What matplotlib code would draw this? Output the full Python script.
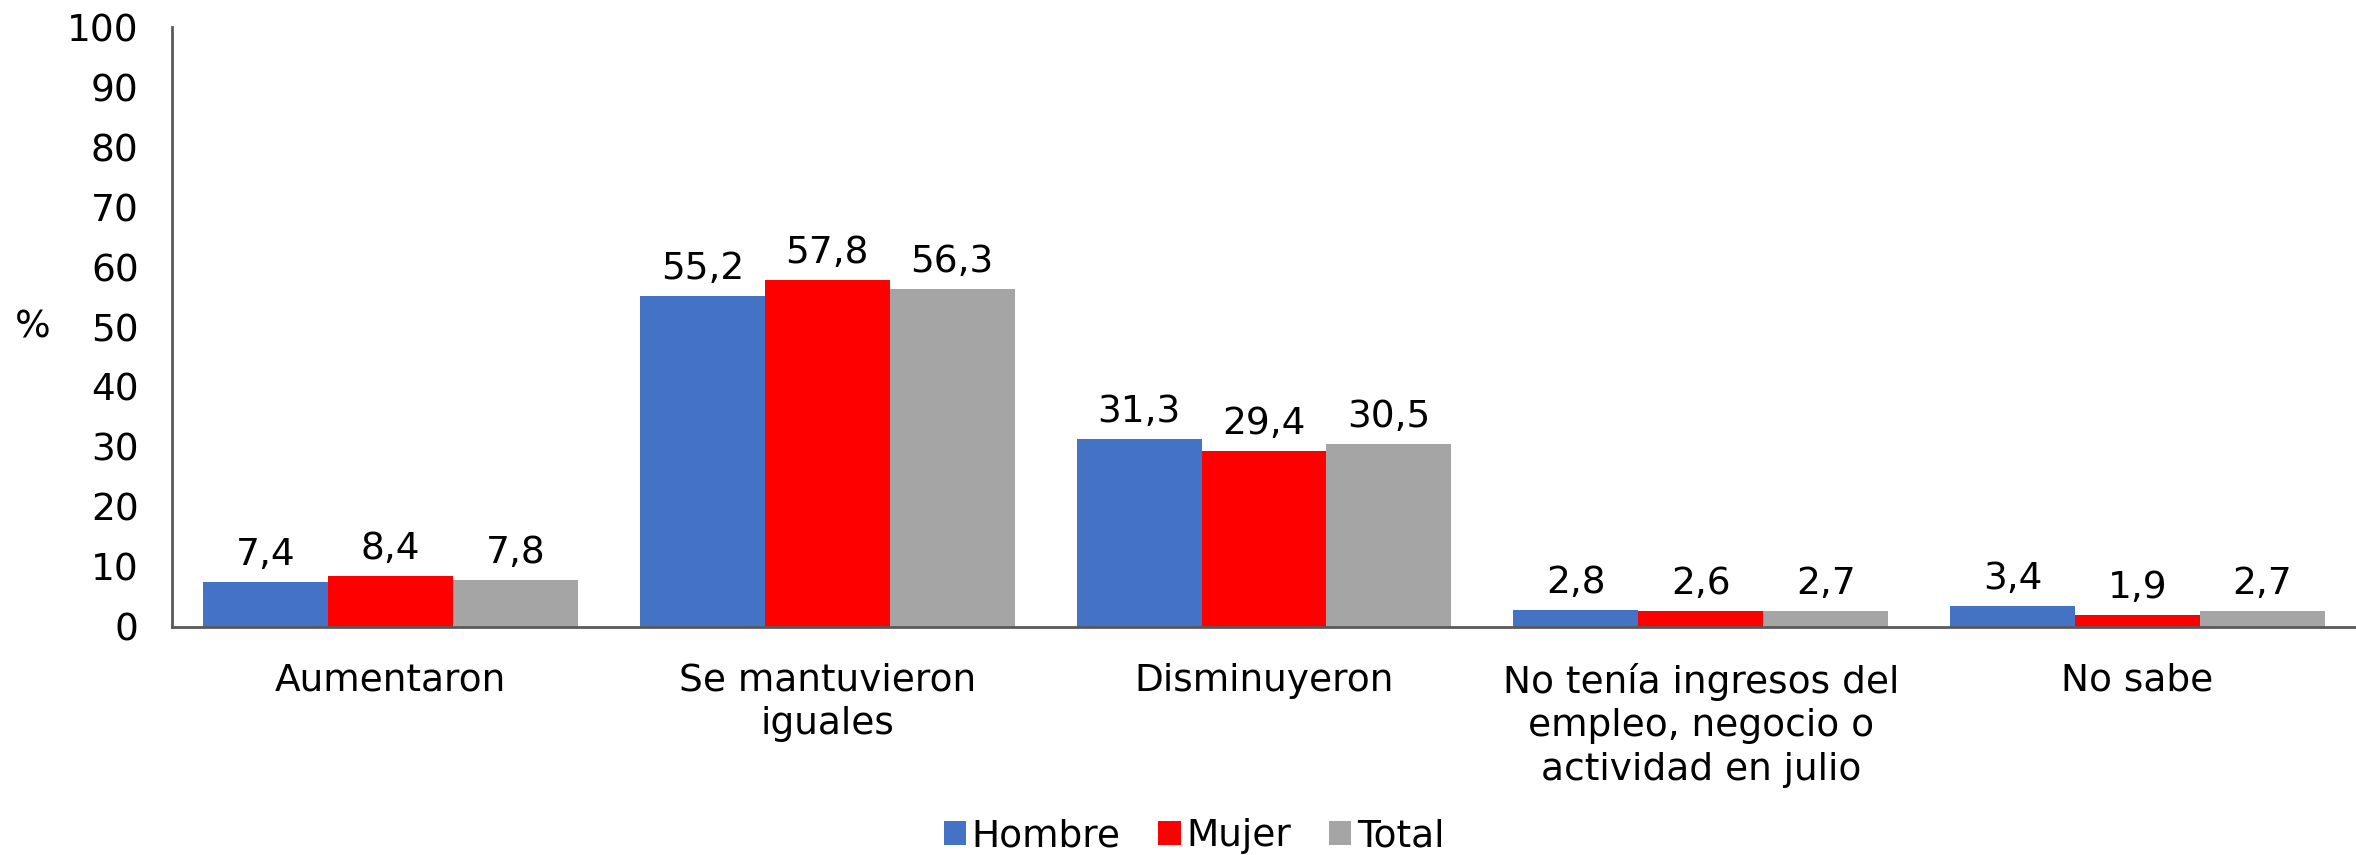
import numpy as np
import matplotlib.pyplot as plt

categories = ['Aumentaron', 'Se mantuvieron\niguales', 'Disminuyeron',
              'No tenía ingresos del\nempleo, negocio o\nactividad en julio', 'No sabe']
series = ['Hombre', 'Mujer', 'Total']
hombre = [7.4, 55.2, 31.3, 2.8, 3.4]
mujer = [8.4, 57.8, 29.4, 2.6, 1.9]
total = [7.8, 56.3, 30.5, 2.7, 2.7]
colors = ['#4472C4', '#FF0000', '#A5A5A5']

plt.rcParams['font.family'] = ['DejaVu Sans']
fs = 27

fig = plt.figure(figsize=(23.56, 8.55), dpi=100)
ax = fig.add_axes([0.073, 0.267, 0.927, 0.701])

x = np.arange(len(categories))
w = 0.286
for i, (name, vals) in enumerate(zip(series, [hombre, mujer, total])):
    pos = x + (i - 1) * w
    bars = ax.bar(pos, vals, w, color=colors[i], label=name)
    for b, v in zip(bars, vals):
        ax.text(b.get_x() + b.get_width() / 2, v + 1.5, f'{v:.1f}'.replace('.', ','),
                ha='center', va='bottom', fontsize=fs)

ax.set_xlim(-0.5, 4.5)
ax.set_ylim(0, 100)
ax.set_yticks(np.arange(0, 101, 10))
ax.set_xticks(x)
ax.set_xticklabels(categories, fontsize=fs, linespacing=1.27)
ax.tick_params(axis='y', labelsize=fs, length=0, pad=24)
ax.tick_params(axis='x', length=0, pad=26)
for s in ['top', 'right']:
    ax.spines[s].set_visible(False)
for s in ['left', 'bottom']:
    ax.spines[s].set_color('#595959')
    ax.spines[s].set_linewidth(2)

fig.text(0.014, 0.617, '%', fontsize=fs, ha='center', va='center')

ax.legend(loc='center', bbox_to_anchor=(0.468, -0.35), ncol=3, frameon=False,
          fontsize=fs, handlelength=0.6, handleheight=0.6, handletextpad=0.15,
          columnspacing=1.0, borderpad=0)

fig.savefig('out.png', dpi=100)
